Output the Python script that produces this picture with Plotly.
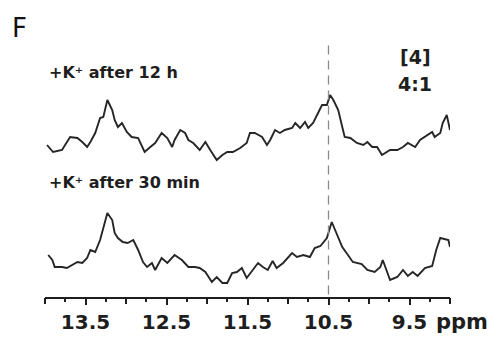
import plotly.graph_objects as go

# 1H NMR imino region, chemical shift in ppm
ppm_12h = [13.975, 13.90, 13.79, 13.69, 13.60, 13.54, 13.48, 13.44, 13.38, 13.32, 13.28, 13.23,
           13.17, 13.14, 13.10, 13.05, 12.99, 12.93, 12.85, 12.77, 12.70, 12.64, 12.56, 12.49,
           12.43, 12.40, 12.33, 12.27, 12.23, 12.17, 12.09, 12.02, 11.96, 11.88, 11.81, 11.75,
           11.68, 11.59, 11.51, 11.47, 11.41, 11.32, 11.26, 11.22, 11.16, 11.10, 11.04, 10.95,
           10.91, 10.85, 10.79, 10.75, 10.69, 10.63, 10.58, 10.52, 10.48, 10.44, 10.38, 10.33,
           10.30, 10.23, 10.15, 10.07, 10.02, 9.96, 9.90, 9.84, 9.80, 9.74, 9.65, 9.58, 9.52,
           9.43, 9.37, 9.28, 9.22, 9.19, 9.12, 9.09, 9.04, 9.00]
int_12h = [15, 8, 10, 23, 22, 18, 13, 18, 27, 42, 43, 60,
           50, 40, 33, 37, 28, 23, 22, 8, 13, 17, 27, 22,
           13, 20, 30, 27, 20, 17, 10, 18, 10, 0, 5, 8,
           8, 12, 17, 27, 27, 23, 15, 20, 30, 27, 30, 32,
           37, 32, 38, 32, 37, 47, 55, 55, 65, 60, 50, 33,
           23, 22, 17, 15, 18, 13, 13, 5, 7, 10, 10, 13, 17,
           13, 20, 25, 28, 23, 27, 37, 45, 30]

ppm_30m = [13.96, 13.91, 13.88, 13.79, 13.73, 13.67, 13.60, 13.54, 13.48, 13.44, 13.38, 13.32,
           13.28, 13.23, 13.17, 13.14, 13.10, 13.04, 12.98, 12.91, 12.85, 12.79, 12.74, 12.68,
           12.64, 12.56, 12.49, 12.40, 12.31, 12.23, 12.15, 12.09, 12.02, 11.94, 11.88, 11.81,
           11.75, 11.69, 11.63, 11.57, 11.51, 11.37, 11.31, 11.25, 11.19, 11.14, 11.06, 10.95,
           10.89, 10.81, 10.73, 10.67, 10.60, 10.52, 10.46, 10.40, 10.33, 10.26, 10.20, 10.09,
           10.02, 9.93, 9.86, 9.83, 9.78, 9.74, 9.65, 9.58, 9.52, 9.46, 9.40, 9.31, 9.22, 9.17,
           9.12, 9.06, 9.02, 9.00]
int_30m = [30, 25, 18, 18, 17, 20, 23, 22, 27, 35, 33, 45,
           58, 72, 65, 52, 47, 43, 42, 45, 35, 23, 18, 22,
           15, 27, 22, 30, 25, 18, 18, 17, 13, 3, 8, 2,
           2, 12, 13, 17, 7, 22, 18, 15, 24, 17, 22, 32,
           28, 30, 28, 37, 39, 47, 63, 52, 38, 30, 23, 21,
           15, 13, 18, 25, 13, 5, 8, 15, 9, 13, 9, 17, 19, 35,
           47, 46, 45, 38]

# vertical stacking of the two spectra
offset_12h = 137
offset_30m = 12

label_vals = [13.5, 12.5, 11.5, 10.5, 9.5]
unlabeled_major = [14.0, 13.0, 12.0, 11.0, 10.0, 9.0]
minor_vals = [13.75, 13.25, 12.75, 12.25, 11.75, 11.25, 10.75, 10.25, 9.75, 9.25]
marker_ppm = 10.5

line_style = dict(color="#262626", width=1.9)
bold = "DejaVu Sans"
ink = "#1e1e1e"

fig = go.Figure()
fig.add_trace(go.Scatter(x=ppm_12h, y=[v + offset_12h for v in int_12h],
                         mode="lines", line=line_style, hoverinfo="skip"))
fig.add_trace(go.Scatter(x=ppm_30m, y=[v + offset_30m for v in int_30m], xaxis="x2",
                         mode="lines", line=line_style, hoverinfo="skip"))

fig.add_shape(type="line", xref="x", yref="paper", x0=marker_ppm, x1=marker_ppm,
              y0=0.01, y1=1.0, line=dict(color="#8a8a8a", width=1.3, dash="9px,6px"))

ann_font = dict(family=bold, size=16, color=ink, weight="bold")
fig.add_annotation(x=13.975, y=225, xref="x", yref="y", xanchor="left", yanchor="middle",
                   text="+K\u207a after 12 h", showarrow=False, font=ann_font)
fig.add_annotation(x=13.975, y=115, xref="x", yref="y", xanchor="left", yanchor="middle",
                   text="+K\u207a after 30 min", showarrow=False, font=ann_font)
fig.add_annotation(x=9.43, y=240, xref="x", yref="y", xanchor="center", yanchor="middle",
                   text="[4]", showarrow=False,
                   font=dict(family=bold, size=19, color=ink, weight="bold"))
fig.add_annotation(x=9.43, y=213, xref="x", yref="y", xanchor="center", yanchor="middle",
                   text="4:1", showarrow=False,
                   font=dict(family=bold, size=19, color=ink, weight="bold"))
fig.add_annotation(x=1.03, y=-0.1, xref="paper", yref="paper", xanchor="center",
                   yanchor="middle", text="ppm", showarrow=False,
                   font=dict(family=bold, size=21, color=ink, weight="bold"))
fig.add_annotation(x=-0.063, y=1.067, xref="paper", yref="paper", xanchor="center",
                   yanchor="middle", text="F", showarrow=False,
                   font=dict(family="DejaVu Sans", size=26, color="#111"))

fig.update_layout(
    xaxis=dict(range=[14.0, 9.0], showgrid=False, zeroline=False, automargin=False,
               showline=True, linecolor=ink, linewidth=2,
               tickmode="array", tickvals=label_vals,
               ticktext=[f"{v:.1f}" for v in label_vals],
               ticks="outside", ticklen=6, tickwidth=2, tickcolor=ink,
               tickfont=dict(family=bold, size=20, color=ink, weight="bold"),
               minor=dict(tickmode="array", tickvals=minor_vals, ticks="outside",
                          ticklen=3, tickwidth=2, tickcolor=ink)),
    xaxis2=dict(range=[14.0, 9.0], matches="x", overlaying="x", anchor="y", side="bottom",
                showgrid=False, zeroline=False, showline=False, automargin=False,
                tickmode="array", tickvals=unlabeled_major, showticklabels=False,
                ticks="outside", ticklen=6, tickwidth=2, tickcolor=ink),
    yaxis=dict(range=[0, 252], visible=False),
    width=498, height=337, margin=dict(l=45, r=48, t=45, b=40),
    paper_bgcolor="white", plot_bgcolor="white", showlegend=False,
)

fig.write_html("out.html")
